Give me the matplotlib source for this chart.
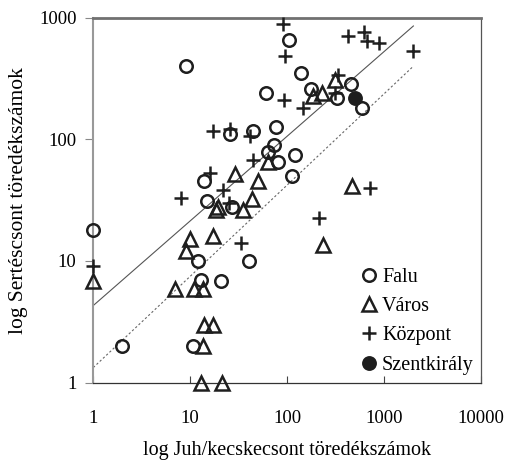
import matplotlib
matplotlib.use("Agg")
import matplotlib.pyplot as plt
from matplotlib.ticker import FixedLocator, NullLocator

# Falu (village) sites: sheep/goat vs cattle fragment counts
falu_x = [1, 9, 60, 105, 140, 178, 450, 585, 323, 76, 44, 26, 63, 73, 81, 120, 111,
          14, 15, 27, 12, 40, 13, 21, 2, 10.7]
falu_y = [18, 397, 240, 650, 350, 258, 285, 180, 217, 125, 117, 110, 79, 90, 65, 74, 50,
          45, 31, 28, 10, 10, 7, 6.9, 2, 2]

# Város (town) sites
varos_x = [1, 29, 50, 43, 18.5, 19.5, 35, 17, 10, 9, 7, 11, 13.5, 14, 17, 13.4, 13, 21.5,
           470, 235, 64, 226, 185, 310]
varos_y = [6.8, 52, 45, 32, 26, 27.5, 26, 16, 15, 12, 5.9, 5.9, 5.9, 3, 3, 2, 1, 1,
           41, 13.5, 65, 239, 227, 307]

# Központ (centre) sites
kozpont_x = [1, 8, 16, 17, 26, 22, 25, 33, 41, 44, 91, 95, 93, 146, 214, 310, 336,
             425, 618, 668, 889, 1991, 720]
kozpont_y = [9, 33, 53, 117, 121, 38, 30, 14, 106, 67, 885, 485, 210, 180, 22.5, 240, 338,
             706, 766, 646, 615, 535, 40]

# Szentkirály
szent_x = [500]
szent_y = [220]

# trend lines (endpoints)
solid_x = [1, 2000]
solid_y = [4.3, 852]
dotted_x = [1, 2000]
dotted_y = [1.33, 398]

xticks = [1, 10, 100, 1000, 10000]
yticks = [1, 10, 100, 1000]

plt.rcParams["font.family"] = ["Liberation Serif", "DejaVu Serif"]

fig = plt.figure(figsize=(5.07, 4.61), dpi=100)
ax = fig.add_axes([0.184, 0.170, 0.765, 0.792])
ax.set_xscale("log")
ax.set_yscale("log")
ax.set_xlim(1, 10000)
ax.set_ylim(1, 1000)

ax.plot(solid_x, solid_y, color="#555555", lw=0.8, zorder=1)
ax.plot(dotted_x, dotted_y, color="#666666", lw=0.8, ls=(0, (2, 2)), zorder=1)

ink = "#1e1e1e"
common = dict(ls="none", clip_on=False, zorder=3)
ax.plot(falu_x, falu_y, marker="o", ms=9, mfc="none", mec=ink, mew=1.8,
        label="Falu", **common)
ax.plot(varos_x, varos_y, marker="^", ms=9.5, mfc="none", mec=ink, mew=1.8,
        label="Város", **common)
ax.plot(kozpont_x, kozpont_y, marker="+", ms=10, mec=ink, mew=1.8,
        label="Központ", **common)
ax.plot(szent_x, szent_y, marker="o", ms=9.5, mfc=ink, mec=ink, mew=1.2,
        label="Szentkirály", **common)

ax.xaxis.set_major_locator(FixedLocator(xticks))
ax.yaxis.set_major_locator(FixedLocator(yticks))
ax.xaxis.set_minor_locator(NullLocator())
ax.yaxis.set_minor_locator(NullLocator())
ax.set_xticklabels([str(v) for v in xticks])
ax.set_yticklabels([str(v) for v in yticks])
ax.tick_params(axis="x", direction="in", length=5, width=0.8, color="#444444",
               pad=20, labelsize=13.5)
ax.tick_params(axis="y", direction="out", length=6, width=0.8, color="#888888",
               pad=6, labelsize=13.5)

ax.spines["left"].set_color("#999999")
ax.spines["left"].set_linewidth(1.5)
ax.spines["top"].set_color("#707070")
ax.spines["top"].set_linewidth(2)
ax.spines["bottom"].set_color("#333333")
ax.spines["bottom"].set_linewidth(0.9)
ax.spines["right"].set_color("#555555")
ax.spines["right"].set_linewidth(0.9)

ax.set_xlabel("log Juh/kecskecsont töredékszámok", fontsize=14.5, labelpad=10)
ax.set_ylabel("log Sertéscsont töredékszámok", fontsize=15.5, labelpad=8)

ax.legend(loc="upper left", bbox_to_anchor=(0.69, 0.314), frameon=False, fontsize=14.5,
          handlelength=0.8, handletextpad=0.25, labelspacing=0.5, borderpad=0,
          borderaxespad=0)

fig.savefig("out.png", dpi=100)
